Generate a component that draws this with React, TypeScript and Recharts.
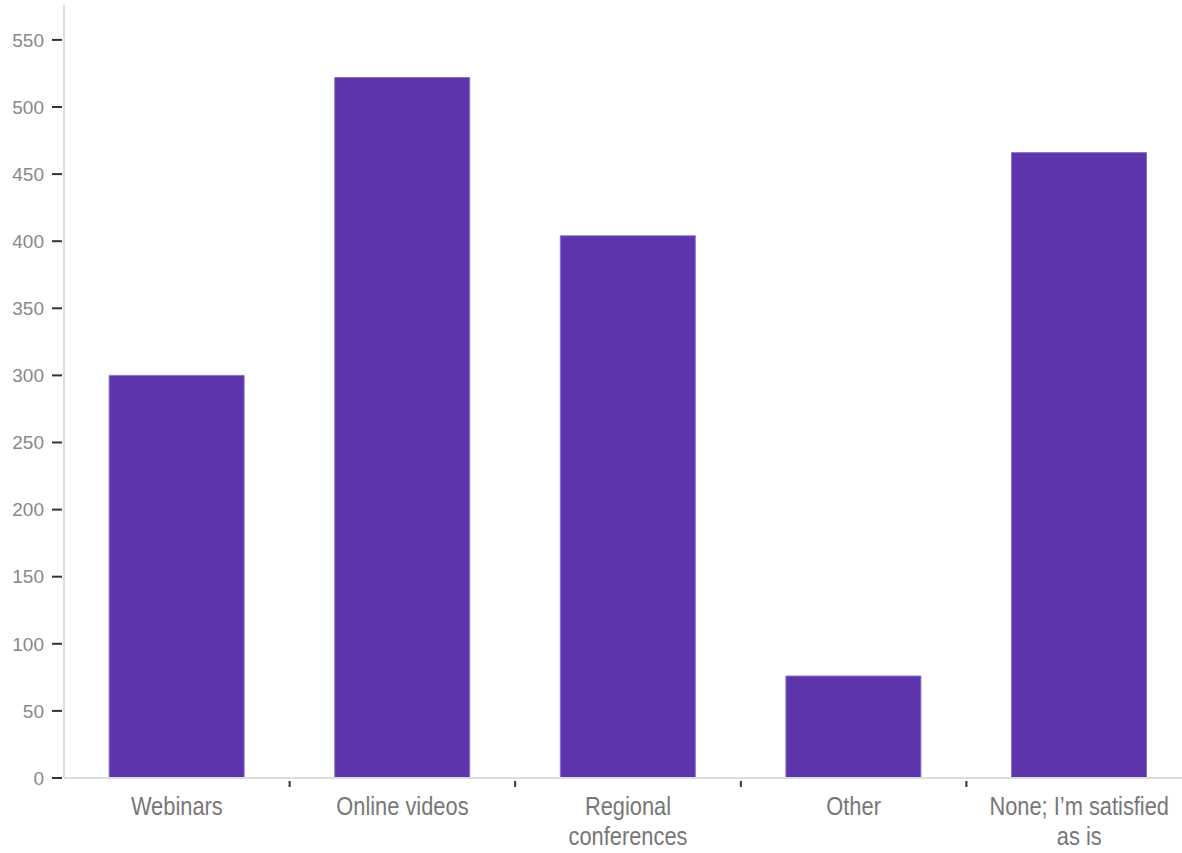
import { BarChart, Bar, XAxis, YAxis } from 'recharts'

const categories = ['Webinars', 'Online videos', 'Regional\nconferences', 'Other', 'None; I’m satisfied\nas is']
const responses = [300, 522, 404, 76, 466]
const yTicks = [0, 50, 100, 150, 200, 250, 300, 350, 400, 450, 500, 550]

const data = categories.map((name, i) => ({ name, value: responses[i] }))

// category labels are drawn condensed, tick marks sit on the band edges
function CategoryTick(props: any) {
    const { x, y, payload, index, visibleTicksCount } = props
    const lines = String(payload.value).split('\n')
    const half = payload.offset ?? 0
    return (
        <g>
            {index < visibleTicksCount - 1 && (
                <line x1={x + half} x2={x + half} y1={781} y2={787} stroke="#333" strokeWidth={2} />
            )}
            <g transform={`translate(${x},${y}) scale(0.84,1)`}>
                <text
                    x={0}
                    y={0}
                    textAnchor="middle"
                    fill="#777"
                    fontFamily="'Liberation Sans', Arial, sans-serif"
                    fontSize={26}
                >
                    {lines.map((l, i) => (
                        <tspan key={i} x={0} dy={i === 0 ? 29 : 30}>
                            {l}
                        </tspan>
                    ))}
                </text>
            </g>
        </g>
    )
}

export default function App() {
    return (
        <div style={{ position: 'absolute', left: 0, top: 0, width: 1182, height: 853, overflow: 'hidden', background: '#fff' }}>
            <BarChart width={1192} height={853} data={data} margin={{ top: 5, right: 0, bottom: 0, left: 0 }} barCategoryGap="20%">
                <XAxis
                    dataKey="name"
                    height={75}
                    interval={0}
                    axisLine={{ stroke: '#ddd', strokeWidth: 2 }}
                    tickLine={false}
                    tick={<CategoryTick />}
                />
                <YAxis
                    width={64}
                    domain={[0, 576]}
                    ticks={yTicks}
                    interval={0}
                    tickSize={12}
                    tickMargin={8}
                    axisLine={{ stroke: '#ddd', strokeWidth: 2 }}
                    tickLine={{ stroke: '#333', strokeWidth: 2, strokeDasharray: '10 2' }}
                    tick={{ fill: '#888', fontSize: 19, fontFamily: "'Liberation Sans', Arial, sans-serif" }}
                />
                <Bar dataKey="value" fill="#5c35ad" stroke="#8a70cc" strokeWidth={1} isAnimationActive={false} />
            </BarChart>
        </div>
    )
}
